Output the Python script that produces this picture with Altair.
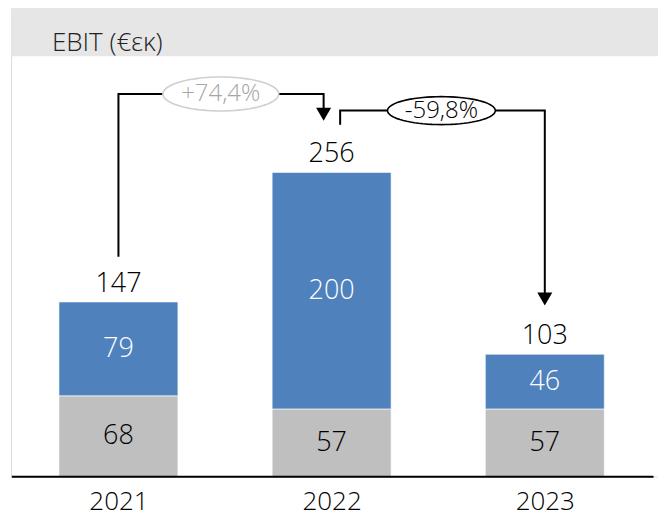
import altair as alt
import pandas as pd
import numpy as np

# ---- data ----
years = ["2021", "2022", "2023"]
base_vals = [68, 57, 57]      # grey segment
top_vals = [79, 200, 46]      # blue segment
totals = [147, 256, 103]
changes = ["+74,4%", "-59,8%"]
title_text = "EBIT (€εκ)"

# ---- layout / style ----
FONT = "Open Sans"
FW = 300
NUM = 27
W, H = 648, 469
XDOM = [-0.504, 2.531]
YDOM = [0, 394]
HALF = 0.279
BLUE = "#4f81bd"
GREY = "#bfbfbf"

xs = alt.Scale(domain=XDOM, nice=False, zero=False)
ys = alt.Scale(domain=YDOM, nice=False, zero=False)
label_expr = "[" + ",".join(f"'{y}'" for y in years) + "][datum.value]"
xaxis = alt.Axis(values=[0, 1, 2], labelExpr=label_expr, domain=False, ticks=False,
                 grid=False, labelFont=FONT, labelFontWeight=FW, labelFontSize=26,
                 labelColor="black", labelPadding=12, title=None)

def X(f):
    return alt.X(f, type="quantitative", scale=xs, axis=xaxis)

def Y(f):
    return alt.Y(f, type="quantitative", scale=ys, axis=None)

idx = list(range(len(years)))
bars = pd.DataFrame({
    "i": idx * 2,
    "seg": ["base"] * 3 + ["top"] * 3,
    "y0": [0, 0, 0] + base_vals,
    "y1": base_vals + totals,
    "v": base_vals + top_vals,
})
bars["x0"] = bars.i - HALF
bars["x1"] = bars.i + HALF
bars["ym"] = (bars.y0 + bars.y1) / 2
bars["tc"] = np.where(bars.seg == "top", "white", "black")

tot = pd.DataFrame({"i": idx, "t": totals})

# band + title
band = alt.Chart(pd.DataFrame({"a": [0]})).mark_rect(color="#e6e6e6").encode(
    x=alt.value(0), x2=alt.value(W), y=alt.value(0), y2=alt.value(48))
title = alt.Chart(pd.DataFrame({"t": [title_text]})).mark_text(
    align="left", baseline="alphabetic", font=FONT, fontWeight=FW, fontSize=26, color="#222222"
).encode(x=alt.value(41), y=alt.value(43), text="t:N")

bar_layer = alt.Chart(bars).mark_bar(stroke="white", strokeWidth=0.6).encode(
    x=X("x0"), x2="x1", y=Y("y0"), y2="y1",
    color=alt.Color("seg:N", scale=alt.Scale(domain=["base", "top"], range=[GREY, BLUE]), legend=None),
)
seg_text = alt.Chart(bars).mark_text(font=FONT, fontWeight=FW, fontSize=NUM, baseline="middle").encode(
    x=X("i"), y=Y("ym"), text="v:Q", color=alt.Color("tc:N", scale=None))
tot_text = alt.Chart(tot).mark_text(font=FONT, fontWeight=FW, fontSize=NUM, baseline="alphabetic",
                                    dy=-10, color="black").encode(
    x=X("i"), y=Y("t"), text="t:Q")

axis_line = alt.Chart(pd.DataFrame({"a": [-0.5], "b": [2.51], "y": [0]})).mark_rule(
    color="black", strokeWidth=2).encode(x=X("a"), x2="b", y=Y("y"))

t0, t1, t2 = totals
p1 = [(0, t0 + 38), (0, t1 + 66), (0.9625, t1 + 66), (0.9625, t1 + 53)]
p2 = [(1.04, t1 + 40), (1.04, t1 + 52), (2.0, t1 + 52), (2.0, t2 + 50)]
rows = []
for pid, pts in enumerate([p1, p2]):
    for k, (a, b) in enumerate(pts):
        rows.append({"pid": pid, "k": k, "x": a, "y": b})
paths = pd.DataFrame(rows)
conn = alt.Chart(paths).mark_line(color="black", strokeWidth=2).encode(
    x=X("x"), y=Y("y"), detail="pid:N", order="k:Q")

heads = pd.DataFrame({"x": [0.9625, 2.0], "y": [t1 + 49, t2 + 46.5]})
head_layer = alt.Chart(heads).mark_point(shape="triangle-down", size=225, filled=True,
                                         color="black", opacity=1).encode(x=X("x"), y=Y("y"))

def ell_path(w, h):
    r = h / w
    ts = np.linspace(0, 2 * np.pi, 73)[:-1]
    pts = [f"{np.cos(t):.4f} {r * np.sin(t):.4f}" for t in ts]
    return "M " + " L ".join(pts) + " Z"

ells = [
    dict(x=0.48, y=t1 + 66, w=116, h=34, stroke="#d0d0d0", tc="#a6a6a6", text=changes[0]),
    dict(x=1.515, y=t1 + 52, w=108, h=28, stroke="black", tc="black", text=changes[1]),
]
ell_layers = []
for e in ells:
    d = pd.DataFrame({"x": [e["x"]], "y": [e["y"]], "t": [e["text"]]})
    ell_layers.append(
        alt.Chart(d).mark_point(shape=ell_path(e["w"], e["h"]), size=e["w"] ** 2, fill="white",
                                fillOpacity=1, stroke=e["stroke"], strokeWidth=1.6, opacity=1,
                                filled=True).encode(x=X("x"), y=Y("y")))
    ell_layers.append(
        alt.Chart(d).mark_text(font=FONT, fontWeight=FW, fontSize=24, baseline="middle",
                               color=e["tc"]).encode(
            x=X("x"), y=Y("y"), text="t:N"))

chart = alt.layer(band, title, bar_layer, seg_text, tot_text, axis_line, conn, head_layer,
                  *ell_layers).properties(
    width=W, height=H, padding={"left": 2, "top": 0, "right": 0, "bottom": 8}
).configure_view(stroke=None).configure(background="white")

chart.save("out.html", embed_options={"renderer": "svg", "actions": False})
